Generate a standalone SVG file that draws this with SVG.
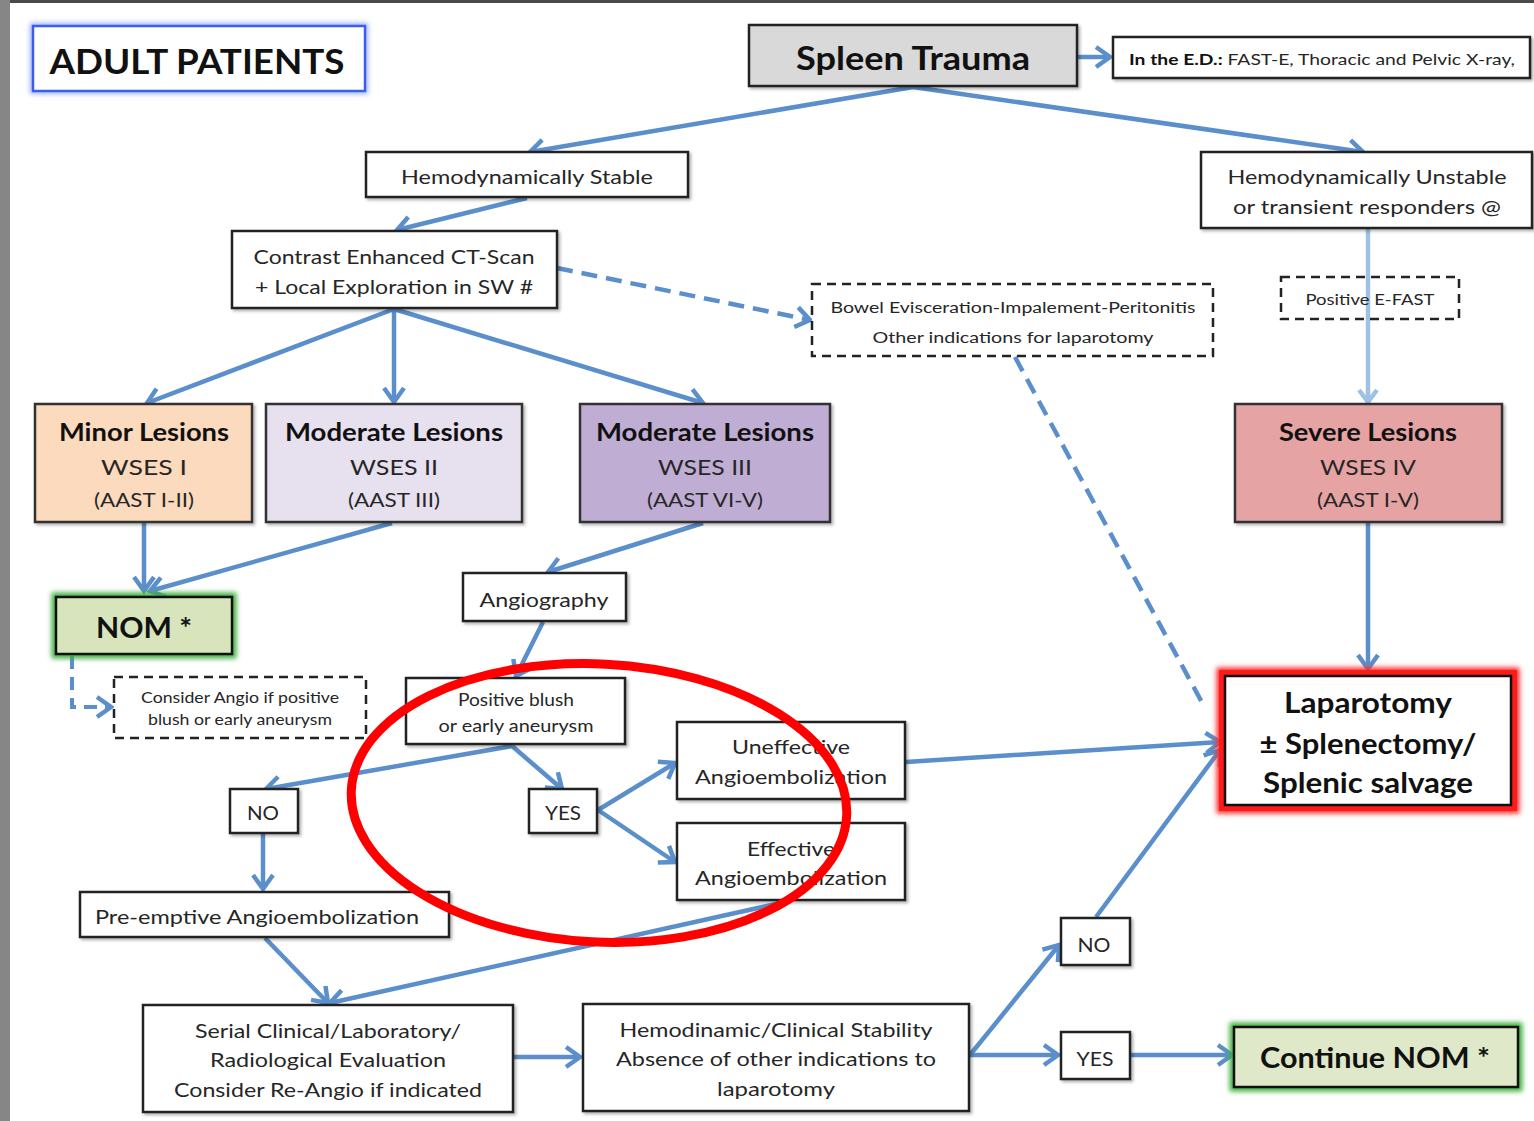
<svg xmlns="http://www.w3.org/2000/svg" width="1534" height="1121" viewBox="0 0 1534 1121">
<defs>
<style>
.bx{fill:#fff;stroke:#222;stroke-width:2.5}
.ds{fill:#fff;stroke:#222;stroke-width:2.5;stroke-dasharray:9 6}
.t{font-family:Lato,"Open Sans",sans-serif;fill:#262626;text-anchor:middle}
.b{font-weight:bold;fill:#111}
.c{fill:none;stroke:#5b8fcb;stroke-width:4.5;marker-end:url(#ah)}
.cn{fill:none;stroke:#5b8fcb;stroke-width:4.5}
.cd{fill:none;stroke:#5b8fcb;stroke-width:4.5;stroke-dasharray:16 9}
</style>
<marker id="ah" markerUnits="userSpaceOnUse" markerWidth="30" markerHeight="30" refX="0" refY="0" viewBox="-20 -15 30 30" orient="auto">
<path d="M-14,-10 L0,0 L-14,10" fill="none" stroke="#5b8fcb" stroke-width="4.5" stroke-linejoin="miter"/>
</marker>
<marker id="ahl" markerUnits="userSpaceOnUse" markerWidth="30" markerHeight="30" refX="0" refY="0" viewBox="-20 -15 30 30" orient="auto">
<path d="M-12,-9 L0,0 L-12,9" fill="none" stroke="#9fc1e4" stroke-width="4.5"/>
</marker>
<filter id="sh" x="-5%" y="-5%" width="115%" height="125%">
<feDropShadow dx="2" dy="2" stdDeviation="1.5" flood-color="#000" flood-opacity="0.3"/>
</filter>
<filter id="gl" x="-10%" y="-20%" width="120%" height="140%">
<feGaussianBlur stdDeviation="2.5"/>
</filter>
</defs>
<rect x="0" y="0" width="1534" height="1121" fill="#fff"/>
<rect x="0" y="0" width="10" height="1121" fill="#868686"/>
<rect x="10" y="0" width="1524" height="3" fill="#4a4a4a"/>

<g id="connectors">
<path class="c" d="M1078,57 H1110"/>
<path class="c" d="M913,87 L530,152"/>
<path class="c" d="M913,87 L1363,152"/>
<path class="c" d="M527,198 L397,230"/>
<path class="cd" d="M557,268 L810,320" marker-end="url(#ah)"/>
<path d="M1368,229 V402" fill="none" stroke="#9fc1e4" stroke-width="4.5" marker-end="url(#ahl)"/>
<path class="cd" d="M1015,357 L1205,708" stroke="#6c9bd2"/>
<path class="c" d="M394,309 L147,403"/>
<path class="c" d="M394,309 V402"/>
<path class="c" d="M394,309 L703,403"/>
<path class="c" d="M144,523 V591"/>
<path class="c" d="M392,523 L150,591"/>
<path class="c" d="M703,523 L548,572"/>
<path class="c" d="M543,622 L516,676"/>
<path class="c" d="M512,746 L266,789"/>
<path class="c" d="M512,746 L562,789"/>
<path class="c" d="M598,810 L675,763"/>
<path class="c" d="M598,810 L675,862"/>
<path class="c" d="M906,762 L1220,742"/>
<path class="c" d="M263,834 V889"/>
<path class="c" d="M265,938 L328,1003"/>
<path class="c" d="M785,902 L330,1003"/>
<path class="c" d="M514,1057 H580"/>
<path class="c" d="M970,1055 L1059,945"/>
<path class="c" d="M970,1055 H1058"/>
<path class="c" d="M1096,917 L1220,750"/>
<path class="c" d="M1131,1055 H1232"/>
<path class="c" d="M1368,523 V669"/>
<path d="M72,656 V707 H111" fill="none" stroke="#5b8fcb" stroke-width="4" stroke-dasharray="13 8" marker-end="url(#ah)"/>
</g>

<g id="adult">
<rect x="33" y="26" width="332" height="65" fill="none" stroke="#9fb0ff" stroke-width="6" filter="url(#gl)"/>
<rect x="33" y="26" width="332" height="65" fill="#fff" stroke="#3a5ff0" stroke-width="2.5"/>
<text class="t b" x="197" y="74" font-size="34" textLength="295" lengthAdjust="spacingAndGlyphs">ADULT PATIENTS</text>
</g>

<g id="spleen">
<rect x="749" y="25" width="328" height="61" fill="#d9d9d9" stroke="#222" stroke-width="2.5" filter="url(#sh)"/>
<text class="t b" x="913" y="70" font-size="32" textLength="234" lengthAdjust="spacingAndGlyphs">Spleen Trauma</text>
</g>

<g id="ed">
<rect class="bx" x="1113" y="37" width="417" height="41" filter="url(#sh)"/>
<text class="t" x="1322" y="65" font-size="16" textLength="386" lengthAdjust="spacingAndGlyphs"><tspan class="b">In the E.D.:</tspan> FAST-E, Thoracic and Pelvic X-ray,</text>
</g>

<g id="stable">
<rect class="bx" x="366" y="152" width="322" height="45" filter="url(#sh)"/>
<text class="t" x="527" y="184" font-size="20" textLength="252" lengthAdjust="spacingAndGlyphs">Hemodynamically Stable</text>
</g>

<g id="unstable">
<rect class="bx" x="1201" y="152" width="331" height="76" filter="url(#sh)"/>
<text class="t" x="1367" y="184" font-size="20" textLength="279" lengthAdjust="spacingAndGlyphs">Hemodynamically Unstable</text>
<text class="t" x="1367" y="214" font-size="20" textLength="268" lengthAdjust="spacingAndGlyphs">or transient responders @</text>
</g>

<g id="ct">
<rect class="bx" x="232" y="231" width="325" height="77" filter="url(#sh)"/>
<text class="t" x="394" y="264" font-size="20" textLength="281" lengthAdjust="spacingAndGlyphs">Contrast Enhanced CT-Scan</text>
<text class="t" x="394" y="294" font-size="20" textLength="278" lengthAdjust="spacingAndGlyphs">+ Local Exploration in SW #</text>
</g>

<g id="bowel">
<rect class="ds" x="812" y="284" width="401" height="72"/>
<text class="t" x="1013" y="313" font-size="15.5" textLength="365" lengthAdjust="spacingAndGlyphs">Bowel Evisceration-Impalement-Peritonitis</text>
<text class="t" x="1013" y="343" font-size="15.5" textLength="281" lengthAdjust="spacingAndGlyphs">Other indications for laparotomy</text>
</g>

<g id="efast">
<rect class="ds" x="1281" y="277" width="178" height="42" fill="none" style="fill:none"/>
<text class="t" x="1370" y="305" font-size="15.5" textLength="129" lengthAdjust="spacingAndGlyphs">Positive E-FAST</text>
</g>

<g id="minor">
<rect x="35" y="404" width="217" height="118" fill="#fbdabd" stroke="#333" stroke-width="2.5" filter="url(#sh)"/>
<text class="t b" x="144" y="441" font-size="24" textLength="170" lengthAdjust="spacingAndGlyphs">Minor Lesions</text>
<text class="t" x="144" y="475" font-size="22" textLength="86" lengthAdjust="spacingAndGlyphs">WSES I</text>
<text class="t" x="144" y="507" font-size="20" textLength="100" lengthAdjust="spacingAndGlyphs">(AAST I-II)</text>
</g>

<g id="moderate2">
<rect x="266" y="404" width="256" height="118" fill="#e6e0ef" stroke="#333" stroke-width="2.5" filter="url(#sh)"/>
<text class="t b" x="394" y="441" font-size="24" textLength="218" lengthAdjust="spacingAndGlyphs">Moderate Lesions</text>
<text class="t" x="394" y="475" font-size="22" textLength="88" lengthAdjust="spacingAndGlyphs">WSES II</text>
<text class="t" x="394" y="507" font-size="20" textLength="92" lengthAdjust="spacingAndGlyphs">(AAST III)</text>
</g>

<g id="moderate3">
<rect x="580" y="404" width="250" height="118" fill="#bfadd4" stroke="#333" stroke-width="2.5" filter="url(#sh)"/>
<text class="t b" x="705" y="441" font-size="24" textLength="218" lengthAdjust="spacingAndGlyphs">Moderate Lesions</text>
<text class="t" x="705" y="475" font-size="22" textLength="94" lengthAdjust="spacingAndGlyphs">WSES III</text>
<text class="t" x="705" y="507" font-size="20" textLength="116" lengthAdjust="spacingAndGlyphs">(AAST VI-V)</text>
</g>

<g id="severe">
<rect x="1235" y="404" width="267" height="118" fill="#e5a3a3" stroke="#333" stroke-width="2.5" filter="url(#sh)"/>
<text class="t b" x="1368" y="441" font-size="24" textLength="178" lengthAdjust="spacingAndGlyphs">Severe Lesions</text>
<text class="t" x="1368" y="475" font-size="22" textLength="96" lengthAdjust="spacingAndGlyphs">WSES IV</text>
<text class="t" x="1368" y="507" font-size="20" textLength="102" lengthAdjust="spacingAndGlyphs">(AAST I-V)</text>
</g>

<g id="nom">
<rect x="56" y="597" width="176" height="57" fill="none" stroke="#3fae3f" stroke-width="9" filter="url(#gl)"/>
<rect x="56" y="597" width="176" height="57" fill="#d8e4bc" stroke="#111" stroke-width="2.5"/>
<text class="t b" x="144" y="638" font-size="28" textLength="96" lengthAdjust="spacingAndGlyphs">NOM *</text>
</g>

<g id="consider">
<rect class="ds" x="114" y="677" width="252" height="61"/>
<text class="t" x="240" y="703" font-size="15" textLength="198" lengthAdjust="spacingAndGlyphs">Consider Angio if  positive</text>
<text class="t" x="240" y="725" font-size="15" textLength="184" lengthAdjust="spacingAndGlyphs">blush or early aneurysm</text>
</g>

<g id="angiography">
<rect class="bx" x="463" y="573" width="163" height="48" filter="url(#sh)"/>
<text class="t" x="544" y="607" font-size="20" textLength="129" lengthAdjust="spacingAndGlyphs">Angiography</text>
</g>

<g id="blush">
<rect class="bx" x="406" y="678" width="219" height="66" filter="url(#sh)"/>
<text class="t" x="516" y="706" font-size="17" textLength="116" lengthAdjust="spacingAndGlyphs">Positive blush</text>
<text class="t" x="516" y="732" font-size="17" textLength="155" lengthAdjust="spacingAndGlyphs">or early aneurysm</text>
</g>

<g id="no1">
<rect class="bx" x="230" y="789" width="68" height="44" filter="url(#sh)"/>
<text class="t" x="263" y="820" font-size="20" textLength="32" lengthAdjust="spacingAndGlyphs">NO</text>
</g>

<g id="yes1">
<rect class="bx" x="529" y="789" width="68" height="44" filter="url(#sh)"/>
<text class="t" x="563" y="820" font-size="20" textLength="36" lengthAdjust="spacingAndGlyphs">YES</text>
</g>

<g id="uneffective">
<rect class="bx" x="677" y="722" width="228" height="77" filter="url(#sh)"/>
<text class="t" x="791" y="754" font-size="20" textLength="118" lengthAdjust="spacingAndGlyphs">Uneffective</text>
<text class="t" x="791" y="784" font-size="20" textLength="192" lengthAdjust="spacingAndGlyphs">Angioembolization</text>
</g>

<g id="effective">
<rect class="bx" x="677" y="823" width="228" height="77" filter="url(#sh)"/>
<text class="t" x="791" y="856" font-size="20" textLength="88" lengthAdjust="spacingAndGlyphs">Effective</text>
<text class="t" x="791" y="885" font-size="20" textLength="192" lengthAdjust="spacingAndGlyphs">Angioembolization</text>
</g>

<g id="preemptive">
<rect class="bx" x="80" y="892" width="369" height="45" filter="url(#sh)"/>
<text class="t" x="257" y="924" font-size="20" textLength="324" lengthAdjust="spacingAndGlyphs">Pre-emptive Angioembolization</text>
</g>

<g id="serial">
<rect class="bx" x="143" y="1005" width="370" height="107" filter="url(#sh)"/>
<text class="t" x="328" y="1038" font-size="20" textLength="266" lengthAdjust="spacingAndGlyphs">Serial Clinical/Laboratory/</text>
<text class="t" x="328" y="1067" font-size="20" textLength="236" lengthAdjust="spacingAndGlyphs">Radiological Evaluation</text>
<text class="t" x="328" y="1097" font-size="20" textLength="308" lengthAdjust="spacingAndGlyphs">Consider Re-Angio if indicated</text>
</g>

<g id="hemodinamic">
<rect class="bx" x="583" y="1004" width="386" height="107" filter="url(#sh)"/>
<text class="t" x="776" y="1037" font-size="20" textLength="313" lengthAdjust="spacingAndGlyphs">Hemodinamic/Clinical Stability</text>
<text class="t" x="776" y="1066" font-size="20" textLength="320" lengthAdjust="spacingAndGlyphs">Absence of other indications to</text>
<text class="t" x="776" y="1096" font-size="20" textLength="118" lengthAdjust="spacingAndGlyphs">laparotomy</text>
</g>

<g id="no2">
<rect class="bx" x="1061" y="918" width="69" height="47" filter="url(#sh)"/>
<text class="t" x="1094" y="952" font-size="20" textLength="33" lengthAdjust="spacingAndGlyphs">NO</text>
</g>

<g id="yes2">
<rect class="bx" x="1061" y="1032" width="69" height="47" filter="url(#sh)"/>
<text class="t" x="1095" y="1066" font-size="20" textLength="37" lengthAdjust="spacingAndGlyphs">YES</text>
</g>

<g id="continue">
<rect x="1234" y="1027" width="284" height="60" fill="none" stroke="#3fae3f" stroke-width="9" filter="url(#gl)"/>
<rect x="1234" y="1027" width="284" height="60" fill="#dfe8c8" stroke="#111" stroke-width="2.5"/>
<text class="t b" x="1375" y="1068" font-size="28" textLength="230" lengthAdjust="spacingAndGlyphs">Continue NOM *</text>
</g>

<g id="laparotomy">
<rect x="1222" y="673" width="292" height="135" fill="none" stroke="#ff2a2a" stroke-width="11" filter="url(#gl)"/>
<rect x="1222" y="673" width="292" height="135" fill="none" stroke="#ff1a1a" stroke-width="6"/>
<rect x="1225" y="676" width="286" height="129" fill="#fff" stroke="#111" stroke-width="2.5"/>
<text class="t b" x="1368" y="713" font-size="29" textLength="168" lengthAdjust="spacingAndGlyphs">Laparotomy</text>
<text class="t b" x="1368" y="754" font-size="29" textLength="217" lengthAdjust="spacingAndGlyphs">± Splenectomy/</text>
<text class="t b" x="1368" y="793" font-size="29" textLength="210" lengthAdjust="spacingAndGlyphs">Splenic salvage</text>
</g>

<ellipse id="highlight" cx="599" cy="803" rx="248" ry="139" fill="none" stroke="#ff0000" stroke-width="9" transform="rotate(3 599 803)"/>
</svg>
